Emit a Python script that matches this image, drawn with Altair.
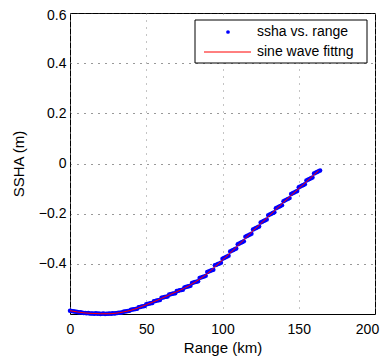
import altair as alt
import pandas as pd

# ---- data ----
fit_x = [0, 5, 10, 15, 20, 25, 30, 35, 40, 45, 50, 55, 60, 65, 70, 75, 80, 85, 90, 95,
         100, 105, 110, 115, 120, 125, 130, 135, 140, 145, 150, 155, 160, 163]
fit_y = [-0.587, -0.592, -0.596, -0.598, -0.599, -0.599, -0.597, -0.592, -0.585, -0.575,
         -0.563, -0.551, -0.538, -0.524, -0.511, -0.497, -0.480, -0.461, -0.439, -0.412,
         -0.385, -0.357, -0.328, -0.298, -0.268, -0.240, -0.212, -0.183, -0.155,
         -0.127, -0.100, -0.073, -0.045, -0.028]

ssha_x = list(range(0, 165))
ssha_y = [
    -0.587, -0.588, -0.589, -0.590, -0.591,
    -0.592, -0.594, -0.593, -0.595, -0.596,
    -0.596, -0.597, -0.596, -0.598, -0.598,
    -0.598, -0.599, -0.597, -0.599, -0.598,
    -0.600, -0.599, -0.598, -0.600, -0.599,
    -0.599, -0.598, -0.599, -0.597, -0.598,
    -0.597, -0.596, -0.595, -0.595, -0.594,
    -0.591, -0.590, -0.589, -0.588, -0.587,
    -0.583, -0.582, -0.581, -0.580, -0.579,
    -0.573, -0.572, -0.570, -0.569, -0.568,
    -0.561, -0.560, -0.558, -0.557, -0.556,
    -0.549, -0.548, -0.546, -0.545, -0.544,
    -0.535, -0.534, -0.532, -0.531, -0.530,
    -0.522, -0.521, -0.519, -0.518, -0.517,
    -0.508, -0.507, -0.505, -0.504, -0.503,
    -0.494, -0.492, -0.490, -0.489, -0.487,
    -0.476, -0.474, -0.472, -0.471, -0.469,
    -0.456, -0.454, -0.452, -0.450, -0.448,
    -0.433, -0.431, -0.428, -0.426, -0.424,
    -0.406, -0.404, -0.401, -0.399, -0.396,
    -0.380, -0.377, -0.374, -0.371, -0.368,
    -0.351, -0.348, -0.345, -0.342, -0.339,
    -0.322, -0.319, -0.316, -0.313, -0.310,
    -0.292, -0.289, -0.286, -0.283, -0.280,
    -0.263, -0.260, -0.257, -0.254, -0.251,
    -0.235, -0.232, -0.229, -0.226, -0.223,
    -0.206, -0.203, -0.200, -0.197, -0.194,
    -0.178, -0.175, -0.172, -0.169, -0.166,
    -0.150, -0.147, -0.144, -0.141, -0.138,
    -0.122, -0.119, -0.116, -0.113, -0.110,
    -0.095, -0.092, -0.089, -0.086, -0.083,
    -0.068, -0.065, -0.062, -0.059, -0.056,
    -0.040, -0.037, -0.034, -0.031, -0.028,
]

x_ticks = [0, 50, 100, 150, 200]
y_ticks = [-0.4, -0.2, 0, 0.2, 0.4, 0.6]
legend_labels = ["ssha vs. range", "sine wave fittng"]

FONT = "Liberation Sans"

pts = pd.DataFrame({"range": ssha_x, "ssha": ssha_y})
fit = pd.DataFrame({"range": fit_x, "ssha": fit_y})

xscale = alt.Scale(domain=[0, 200], nice=False, zero=False)
yscale = alt.Scale(domain=[-0.6, 0.6], nice=False, zero=False)

xaxis = alt.Axis(values=x_ticks, title="Range (km)", grid=True, gridDash=[1, 6],
                 gridColor="#888888", gridOpacity=1, ticks=False, labelPadding=8,
                 titlePadding=4, domain=False, labelFlush=False,
                 labelOffset={"expr": "datum.value == 200 ? -8 : 0"})
yaxis = alt.Axis(values=y_ticks, title="SSHA (m)", grid=True, gridDash=[1, 6],
                 gridColor="#333333", gridOpacity=1, ticks=False, labelPadding=4,
                 titlePadding=12, domain=False, labelFlush=False,
                 labelOffset={"expr": "datum.value == 0.6 ? 2 : 0"},
                 labelExpr="datum.value == 0 ? '0' : replace(format(datum.value, '.1f'), '-', '\u2212')")

points = alt.Chart(pts).mark_circle(size=20, color="#0000ff", opacity=1).encode(
    x=alt.X("range:Q", scale=xscale, axis=xaxis),
    y=alt.Y("ssha:Q", scale=yscale, axis=yaxis),
)
line = alt.Chart(fit).mark_line(color="#ff0000", strokeWidth=1, interpolate="monotone").encode(
    x=alt.X("range:Q", scale=xscale),
    y=alt.Y("ssha:Q", scale=yscale),
)

one = pd.DataFrame({"k": [0]})
leg_box = alt.Chart(one).mark_rect(fill="white", stroke="black", strokeWidth=1).encode(
    x=alt.value(125), x2=alt.value(297), y=alt.value(7), y2=alt.value(50))
leg_dot = alt.Chart(one).mark_circle(size=14, color="#0000ff", opacity=1).encode(
    x=alt.value(158), y=alt.value(19))
leg_line = alt.Chart(one).mark_rule(color="#ff0000", strokeWidth=1).encode(
    x=alt.value(134), x2=alt.value(181), y=alt.value(39))
leg_text = alt.Chart(pd.DataFrame({"label": legend_labels, "ypos": [19, 39]})).mark_text(
    align="left", baseline="middle", font=FONT, fontSize=14, color="black").encode(
    x=alt.value(187), y=alt.Y("ypos:Q", scale=None), text="label:N")

chart = alt.layer(points, line, leg_box, leg_dot, leg_line, leg_text).properties(
    width=305, height=301,
    padding={"left": 62, "top": 5, "right": 6, "bottom": 42},
    autosize=alt.AutoSizeParams(type="none"),
).configure_view(
    stroke="black", strokeWidth=1
).configure_axis(
    labelFont=FONT, titleFont=FONT, labelFontSize=14, titleFontSize=15,
    labelColor="black", titleColor="black", titleFontWeight="normal"
)

chart.save("out.html", embed_options={"renderer": "svg", "actions": False})
